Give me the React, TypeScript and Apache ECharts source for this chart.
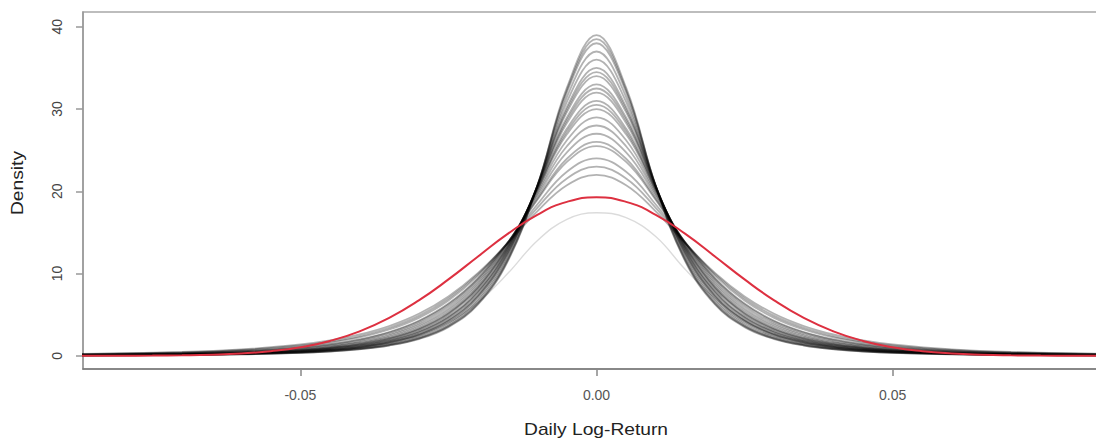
import React, { useEffect, useRef } from "react";
import * as echarts from "echarts";

// x positions (daily log-return) at which the grey density curves were read
const GRAY_X = [-0.09, -0.07, -0.06, -0.05, -0.045, -0.04, -0.035, -0.03, -0.025, -0.02, -0.015, -0.01, -0.005, 0, 0.005, 0.01, 0.015, 0.02, 0.025, 0.03, 0.035, 0.04, 0.045, 0.05, 0.06, 0.07, 0.09];

// grey per-sample density curves
const g22 = [0.19, 0.47, 0.78, 1.39, 1.88, 2.6, 3.63, 5.11, 7.22, 10.08, 13.67, 17.56, 20.74, 22.0, 20.74, 17.56, 13.67, 10.08, 7.22, 5.11, 3.63, 2.6, 1.88, 1.39, 0.78, 0.47, 0.19];
const g23 = [0.17, 0.42, 0.71, 1.27, 1.73, 2.41, 3.41, 4.86, 6.98, 9.93, 13.74, 18.0, 21.57, 23.0, 21.57, 18.0, 13.74, 9.93, 6.98, 4.86, 3.41, 2.41, 1.73, 1.27, 0.71, 0.42, 0.17];
const g24 = [0.15, 0.38, 0.64, 1.16, 1.6, 2.24, 3.2, 4.62, 6.73, 9.76, 13.78, 18.4, 22.38, 24.0, 22.38, 18.4, 13.78, 9.76, 6.73, 4.62, 3.2, 2.24, 1.6, 1.16, 0.64, 0.38, 0.15];
const g25 = [0.13, 0.33, 0.56, 1.02, 1.41, 2.01, 2.9, 4.27, 6.36, 9.46, 13.77, 18.94, 23.57, 25.5, 23.57, 18.94, 13.77, 9.46, 6.36, 4.27, 2.9, 2.01, 1.41, 1.02, 0.56, 0.33, 0.13];
const g26 = [0.12, 0.31, 0.53, 0.97, 1.36, 1.93, 2.81, 4.16, 6.23, 9.36, 13.75, 19.1, 23.96, 26.0, 23.96, 19.1, 13.75, 9.36, 6.23, 4.16, 2.81, 1.93, 1.36, 0.97, 0.53, 0.31, 0.12];
const g27 = [0.11, 0.28, 0.48, 0.89, 1.25, 1.8, 2.63, 3.94, 5.99, 9.13, 13.69, 19.4, 24.73, 27.0, 24.73, 19.4, 13.69, 9.13, 5.99, 3.94, 2.63, 1.8, 1.25, 0.89, 0.48, 0.28, 0.11];
const g28 = [0.1, 0.26, 0.44, 0.82, 1.16, 1.67, 2.47, 3.73, 5.74, 8.9, 13.6, 19.66, 25.48, 28.0, 25.48, 19.66, 13.6, 8.9, 5.74, 3.73, 2.47, 1.67, 1.16, 0.82, 0.44, 0.26, 0.1];
const g29 = [0.09, 0.23, 0.4, 0.76, 1.07, 1.56, 2.31, 3.53, 5.5, 8.66, 13.48, 19.89, 26.21, 29.0, 26.21, 19.89, 13.48, 8.66, 5.5, 3.53, 2.31, 1.56, 1.07, 0.76, 0.4, 0.23, 0.09];
const g30 = [0.08, 0.21, 0.37, 0.7, 0.99, 1.45, 2.17, 3.34, 5.26, 8.42, 13.34, 20.09, 26.93, 30.0, 26.93, 20.09, 13.34, 8.42, 5.26, 3.34, 2.17, 1.45, 0.99, 0.7, 0.37, 0.21, 0.08];
const g30b = [0.08, 0.2, 0.36, 0.67, 0.96, 1.4, 2.1, 3.25, 5.15, 8.29, 13.27, 20.18, 27.28, 30.5, 27.28, 20.18, 13.27, 8.29, 5.15, 3.25, 2.1, 1.4, 0.96, 0.67, 0.36, 0.2, 0.08];
const g31 = [0.08, 0.2, 0.34, 0.65, 0.92, 1.35, 2.03, 3.16, 5.03, 8.17, 13.18, 20.26, 27.63, 31.0, 27.63, 20.26, 13.18, 8.17, 5.03, 3.16, 2.03, 1.35, 0.92, 0.65, 0.34, 0.2, 0.08];
const g32 = [0.07, 0.18, 0.31, 0.6, 0.86, 1.26, 1.91, 2.99, 4.81, 7.92, 13.01, 20.4, 28.31, 32.0, 28.31, 20.4, 13.01, 7.92, 4.81, 2.99, 1.91, 1.26, 0.86, 0.6, 0.31, 0.18, 0.07];
const g32b = [0.07, 0.17, 0.3, 0.58, 0.83, 1.22, 1.85, 2.9, 4.7, 7.79, 12.92, 20.45, 28.65, 32.5, 28.65, 20.45, 12.92, 7.79, 4.7, 2.9, 1.85, 1.22, 0.83, 0.58, 0.3, 0.17, 0.07];
const g33 = [0.06, 0.17, 0.29, 0.55, 0.8, 1.18, 1.79, 2.83, 4.6, 7.67, 12.82, 20.5, 28.98, 33.0, 28.98, 20.5, 12.82, 7.67, 4.6, 2.83, 1.79, 1.18, 0.8, 0.55, 0.29, 0.17, 0.06];
const g34 = [0.06, 0.15, 0.27, 0.52, 0.74, 1.1, 1.68, 2.67, 4.39, 7.42, 12.62, 20.59, 29.63, 34.0, 29.63, 20.59, 12.62, 7.42, 4.39, 2.67, 1.68, 1.1, 0.74, 0.52, 0.27, 0.15, 0.06];
const g34b = [0.06, 0.15, 0.26, 0.5, 0.72, 1.06, 1.63, 2.6, 4.29, 7.3, 12.51, 20.62, 29.94, 34.5, 29.94, 20.62, 12.51, 7.3, 4.29, 2.6, 1.63, 1.06, 0.72, 0.5, 0.26, 0.15, 0.06];
const g35 = [0.05, 0.14, 0.25, 0.48, 0.69, 1.03, 1.58, 2.53, 4.2, 7.18, 12.4, 20.64, 30.26, 35.0, 30.26, 20.64, 12.4, 7.18, 4.2, 2.53, 1.58, 1.03, 0.69, 0.48, 0.25, 0.14, 0.05];
const g36 = [0.05, 0.13, 0.23, 0.45, 0.65, 0.96, 1.49, 2.4, 4.01, 6.93, 12.18, 20.67, 30.87, 36.0, 30.87, 20.67, 12.18, 6.93, 4.01, 2.4, 1.49, 0.96, 0.65, 0.45, 0.23, 0.13, 0.05];
const g37 = [0.05, 0.12, 0.21, 0.42, 0.6, 0.9, 1.4, 2.27, 3.82, 6.7, 11.95, 20.68, 31.46, 37.0, 31.46, 20.68, 11.95, 6.7, 3.82, 2.27, 1.4, 0.9, 0.6, 0.42, 0.21, 0.12, 0.05];
const g38 = [0.04, 0.11, 0.2, 0.39, 0.56, 0.85, 1.32, 2.15, 3.65, 6.46, 11.71, 20.66, 32.04, 38.0, 32.04, 20.66, 11.71, 6.46, 3.65, 2.15, 1.32, 0.85, 0.56, 0.39, 0.2, 0.11, 0.04];
const g38b = [0.04, 0.11, 0.19, 0.37, 0.55, 0.82, 1.28, 2.09, 3.57, 6.35, 11.59, 20.64, 32.32, 38.5, 32.32, 20.64, 11.59, 6.35, 3.57, 2.09, 1.28, 0.82, 0.55, 0.37, 0.19, 0.11, 0.04];
const g39 = [0.04, 0.1, 0.19, 0.36, 0.53, 0.8, 1.25, 2.04, 3.49, 6.24, 11.47, 20.62, 32.6, 39.0, 32.6, 20.62, 11.47, 6.24, 3.49, 2.04, 1.25, 0.8, 0.53, 0.36, 0.19, 0.1, 0.04];
const GRAY_CURVES = [g22, g23, g24, g25, g26, g27, g28, g29, g30, g30b, g31, g32, g32b, g33, g34, g34b, g35, g36, g37, g38, g38b, g39];

// faint, flatter-topped curve
const FAINT = [0.03, 0.1, 0.22, 0.4, 0.7, 1.0, 1.7, 2.5, 4.0, 6.5, 10.0, 14.0, 16.6, 17.4, 16.8, 14.5, 10.5, 7.0, 4.3, 2.6, 1.75, 1.1, 0.72, 0.45, 0.22, 0.1, 0.03];

// red reference (pooled) density
const RED_X = [-0.09, -0.085, -0.08, -0.075, -0.07, -0.065, -0.06, -0.055, -0.05, -0.045, -0.04, -0.035, -0.03, -0.025, -0.02, -0.015, -0.01, -0.005, 0, 0.005, 0.01, 0.015, 0.02, 0.025, 0.03, 0.035, 0.04, 0.045, 0.05, 0.055, 0.06, 0.065, 0.07, 0.075, 0.08, 0.085, 0.09];
const RED_Y = [0.001, 0.004, 0.011, 0.027, 0.063, 0.139, 0.289, 0.565, 1.04, 1.81, 2.98, 4.61, 6.74, 9.29, 12.08, 14.82, 17.15, 18.72, 19.27, 18.72, 17.15, 14.82, 12.08, 9.29, 6.74, 4.61, 2.98, 1.81, 1.04, 0.565, 0.289, 0.139, 0.063, 0.027, 0.011, 0.004, 0.001];

const X_TICKS = [-0.05, 0, 0.05];
const Y_TICKS = [0, 10, 20, 30, 40];

const FONT = "'Liberation Sans', Arial, Helvetica, sans-serif";

export default function App() {
  const ref = useRef<HTMLDivElement>(null);
  useEffect(() => {
    document.body.style.margin = "0";
    document.body.style.overflow = "hidden";
    const chart = echarts.init(ref.current!, null, { renderer: "svg" });
    const pair = (xs: number[], ys: number[]) => xs.map((x, i) => [x, ys[i]]);
    const series: any[] = [];
    GRAY_CURVES.forEach((c) => {
      series.push({
        type: "line",
        data: pair(GRAY_X, c),
        showSymbol: false,
        smooth: 0.4,
        silent: true,
        lineStyle: { color: "rgba(0,0,0,0.3)", width: 1.8 },
      });
    });
    series.push({
      type: "line",
      data: pair(GRAY_X, FAINT),
      showSymbol: false,
      smooth: 0.4,
      silent: true,
      lineStyle: { color: "rgba(0,0,0,0.14)", width: 1.4 },
    });
    series.push({
      type: "line",
      data: pair(RED_X, RED_Y),
      showSymbol: false,
      smooth: 0.5,
      silent: true,
      z: 5,
      lineStyle: { color: "#dd3040", width: 2 },
    });

    chart.setOption({
      animation: false,
      backgroundColor: "#fff",
      grid: {
        left: 83,
        top: 12,
        right: 0,
        bottom: 74,
        show: true,
        borderColor: "#a8a8a8",
        borderWidth: 1.5,
      },
      xAxis: {
        type: "value",
        min: -0.0867,
        max: 0.0867,
        splitLine: { show: false },
        axisLine: { show: true, onZero: false, lineStyle: { color: "#777", width: 1.5 } },
        axisTick: { show: true, length: 7, lineStyle: { color: "#888", width: 1.5 }, customValues: X_TICKS },
        axisLabel: {
          customValues: X_TICKS,
          formatter: (v: number) => v.toFixed(2),
          color: "#555",
          fontSize: 14,
          fontFamily: FONT,
          margin: 19,
        },
      },
      yAxis: {
        type: "value",
        min: -1.6,
        max: 41.8,
        splitLine: { show: false },
        axisLine: { show: true, onZero: false, lineStyle: { color: "#999", width: 1.5 } },
        axisTick: { show: true, length: 7, lineStyle: { color: "#999", width: 1.5 }, customValues: Y_TICKS },
        axisLabel: {
          customValues: Y_TICKS,
          rotate: 90,
          color: "#444",
          fontSize: 14,
          fontFamily: FONT,
          margin: 19,
        },
      },
      graphic: [
        {
          type: "text",
          x: 18,
          y: 183,
          rotation: Math.PI / 2,
          scaleX: 1.2,
          style: {
            text: "Density",
            fontSize: 16,
            fontFamily: FONT,
            fill: "#222",
            align: "center",
            verticalAlign: "middle",
          },
        },
        {
          type: "text",
          x: 596,
          y: 430,
          scaleX: 1.2,
          style: {
            text: "Daily Log-Return",
            fontSize: 16,
            fontFamily: FONT,
            fill: "#222",
            align: "center",
            verticalAlign: "middle",
          },
        },
      ],
      series,
    });
    return () => chart.dispose();
  }, []);
  return (
    <div
      ref={ref}
      style={{ position: "fixed", left: 0, top: 0, width: 1110, height: 443, background: "#fff" }}
    />
  );
}
